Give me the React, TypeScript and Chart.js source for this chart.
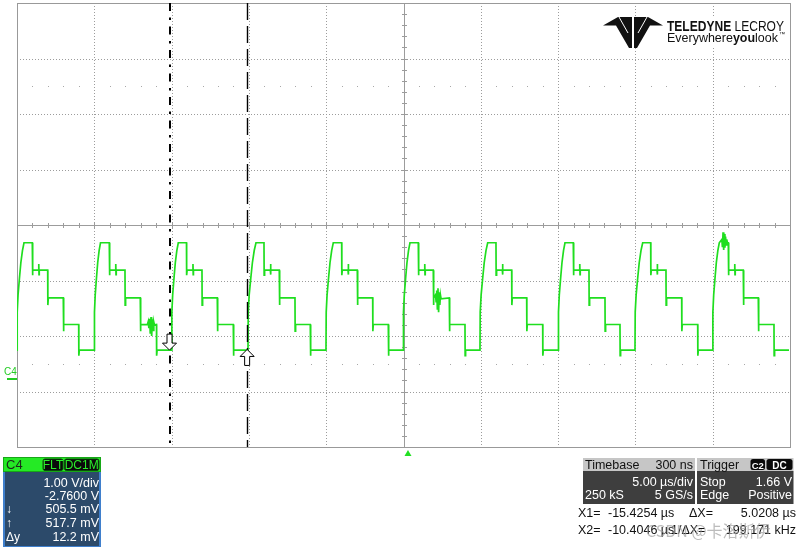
import React, { useEffect, useRef } from "react";
import { Chart, registerables } from "chart.js";

Chart.register(...registerables);

// ---- Scope settings: 5 µs/div, 1 V/div, offset -2.76 V ----
const X_MIN_US = -25.29;
const X_MAX_US = 24.71;
const US_PER_DIV = 5;
const Y_MIN_V = -1.24;
const Y_MAX_V = 6.76;
const V_PER_DIV = 1;
const H_DIVS = 10;
const V_DIVS = 8;
const MINOR_PER_DIV = 5;

// ---- C4 waveform breakpoints (µs), one entry per period ----
const riseStartUs = [-25.29, -20.291, -15.285, -10.349, -5.304, -0.304, 4.657, 9.722, 14.683, 19.709];
const peakStartUs = [-24.838, -19.89, -14.858, -9.832, -4.832, 0.129, 5.155, 10.155, 15.181, 20.136];
const peakEndUs = [-24.301, -19.321, -14.327, -9.314, -4.289, 0.666, 5.692, 10.692, 15.699, 20.718];
const step1EndUs = [-23.305, -18.305, -13.325, -8.325, -3.279, 1.636, 6.708, 11.708, 16.688, 21.688];
const step2EndUs = [-22.296, -17.316, -12.335, -7.309, -2.283, 2.671, 7.678, 12.743, 17.704, 22.659];
const step3EndUs = [-21.3, -16.268, -11.3, -6.32, -1.274, 3.687, 8.713, 13.713, 18.739, 23.674];
const traceEndUs = 24.644;

// levels (V): peak, step1, step2, step3, base
const levelsV = [2.44, 1.946, 1.447, 0.967, 0.505];
const edgeUndershootV = [0.09, 0.13, 0.12, 0.1];
// rising edge shape (fraction of rise time, volts)
const riseFraction = [0, 0.03, 0.15, 0.35, 0.55, 0.78, 1];
const riseV = [0.505, 1.19, 1.5, 1.8, 2.08, 2.3, 2.44];
const spikeOffsetUs = 0.41;
const spikeV = [0.11, -0.08];

// noise bursts
const burstTimesUs = [
  -16.85, -16.8, -16.76, -16.71, -16.67, -16.62, -16.58, -16.53, -16.49, -16.44, -16.4,
  1.78, 1.82, 1.86, 1.9, 1.94, 1.98, 2.02, 2.06, 2.1, 2.14,
  20.3, 20.34, 20.38, 20.42, 20.46, 20.5, 20.54, 20.58, 20.62, 20.66,
];
const burstV = [
  0.97, 1.02, 0.9, 1.07, 0.8, 1.1, 0.76, 1.06, 0.86, 1.01, 0.96,
  1.5, 1.38, 1.58, 1.25, 1.62, 1.19, 1.55, 1.32, 1.5, 1.43,
  2.5, 2.36, 2.63, 2.31, 2.6, 2.35, 2.55, 2.4, 2.5, 2.44,
];

// cursors / trigger
const cursorX1Us = -15.4254;
const cursorX2Us = -10.4046;
const cursorDownV = 0.5055;
const cursorUpV = 0.5177;
const triggerTimeUs = 0;

// panel texts
const chLabel = "C4";
const chRows = ["1.00 V/div", "-2.7600 V", "505.5 mV", "517.7 mV", "12.2 mV"];
const chRowSymbols = ["", "", "↓", "↑", "Δy"];

const FONT = '"Liberation Sans", Arial, sans-serif';
const GREEN = "#1fde1f";

function buildTrace() {
  const pts: { x: number; y: number }[] = [];
  for (let k = 0; k < riseStartUs.length; k++) {
    const R = riseStartUs[k];
    const P = peakStartUs[k];
    riseFraction.forEach((f, i) => pts.push({ x: R + f * (P - R), y: riseV[i] }));
    const ends = [peakEndUs[k], step1EndUs[k], step2EndUs[k], step3EndUs[k]];
    for (let s = 0; s < 4; s++) {
      pts.push({ x: ends[s], y: levelsV[s] });
      pts.push({ x: ends[s] + 0.01, y: levelsV[s + 1] - edgeUndershootV[s] });
      pts.push({ x: ends[s] + 0.04, y: levelsV[s + 1] });
      if (s === 0) {
        const ts = ends[0] + spikeOffsetUs;
        pts.push({ x: ts, y: levelsV[1] });
        pts.push({ x: ts + 0.01, y: levelsV[1] + spikeV[0] });
        pts.push({ x: ts + 0.025, y: levelsV[1] + spikeV[1] });
        pts.push({ x: ts + 0.04, y: levelsV[1] });
      }
    }
  }
  pts.push({ x: traceEndUs, y: levelsV[4] });
  burstTimesUs.forEach((t, i) => pts.push({ x: t, y: burstV[i] }));
  pts.sort((a, b) => a.x - b.x);
  return pts;
}

function text(ctx: CanvasRenderingContext2D, s: string, x: number, y: number, align: CanvasTextAlign, font: string, color: string) {
  ctx.font = font;
  ctx.fillStyle = color;
  ctx.textAlign = align;
  ctx.textBaseline = "alphabetic";
  ctx.fillText(s, x, y);
}

function rrect(ctx: CanvasRenderingContext2D, x: number, y: number, w: number, h: number, r: number, fill: string, stroke?: string) {
  ctx.beginPath();
  ctx.moveTo(x + r, y);
  ctx.lineTo(x + w - r, y);
  ctx.quadraticCurveTo(x + w, y, x + w, y + r);
  ctx.lineTo(x + w, y + h - r);
  ctx.quadraticCurveTo(x + w, y + h, x + w - r, y + h);
  ctx.lineTo(x + r, y + h);
  ctx.quadraticCurveTo(x, y + h, x, y + h - r);
  ctx.lineTo(x, y + r);
  ctx.quadraticCurveTo(x, y, x + r, y);
  ctx.closePath();
  ctx.fillStyle = fill;
  ctx.fill();
  if (stroke) {
    ctx.strokeStyle = stroke;
    ctx.lineWidth = 1;
    ctx.stroke();
  }
}

const gridPlugin = {
  id: "scopeGrid",
  beforeDatasetsDraw(chart: any) {
    const { ctx, chartArea, scales } = chart;
    const xs = scales.x;
    const ys = scales.y;
    const L = chartArea.left, R = chartArea.right, T = chartArea.top, B = chartArea.bottom;
    ctx.save();
    ctx.lineWidth = 1;
    ctx.strokeStyle = "#9c9c9c";
    ctx.setLineDash([1, 2]);
    for (let k = 1; k < H_DIVS; k++) {
      if (k === H_DIVS / 2) continue;
      const x = Math.round(xs.getPixelForValue(X_MIN_US + k * US_PER_DIV)) + 0.5;
      ctx.beginPath();
      ctx.moveTo(x, T);
      ctx.lineTo(x, B);
      ctx.stroke();
    }
    for (let j = 1; j < V_DIVS; j++) {
      if (j === V_DIVS / 2) continue;
      const y = Math.round(ys.getPixelForValue(Y_MIN_V + j * V_PER_DIV)) + 0.5;
      ctx.beginPath();
      ctx.moveTo(L, y);
      ctx.lineTo(R, y);
      ctx.stroke();
    }
    ctx.setLineDash([]);
    ctx.fillStyle = "#a8a8a8";
    [1.5, 6.5].forEach((j) => {
      const y = Math.round(ys.getPixelForValue(Y_MIN_V + j * V_PER_DIV));
      for (let m = 1; m < H_DIVS * MINOR_PER_DIV; m++) {
        if (m % MINOR_PER_DIV === 0) continue;
        const x = Math.round(xs.getPixelForValue(X_MIN_US + (m * US_PER_DIV) / MINOR_PER_DIV));
        ctx.fillRect(x, y, 1, 1);
      }
    });
    const cx = Math.round(xs.getPixelForValue(X_MIN_US + (H_DIVS / 2) * US_PER_DIV)) + 0.5;
    const cy = Math.round(ys.getPixelForValue(Y_MIN_V + (V_DIVS / 2) * V_PER_DIV)) + 0.5;
    ctx.strokeStyle = "#9c9c9c";
    ctx.beginPath();
    ctx.moveTo(cx, T);
    ctx.lineTo(cx, B);
    ctx.moveTo(L, cy);
    ctx.lineTo(R, cy);
    for (let m = 1; m < H_DIVS * MINOR_PER_DIV; m++) {
      const x = Math.round(xs.getPixelForValue(X_MIN_US + (m * US_PER_DIV) / MINOR_PER_DIV)) + 0.5;
      ctx.moveTo(x, cy - 2.5);
      ctx.lineTo(x, cy + 2.5);
    }
    for (let m = 1; m < V_DIVS * MINOR_PER_DIV; m++) {
      const y = Math.round(ys.getPixelForValue(Y_MIN_V + (m * V_PER_DIV) / MINOR_PER_DIV)) + 0.5;
      ctx.moveTo(cx - 2.5, y);
      ctx.lineTo(cx + 2.5, y);
    }
    ctx.stroke();
    ctx.strokeStyle = "#999999";
    ctx.strokeRect(Math.round(L) + 0.5, Math.round(T) + 0.5, Math.round(R - L), Math.round(B - T));
    ctx.restore();
  },
};

const overlayPlugin = {
  id: "scopeOverlay",
  afterDatasetsDraw(chart: any) {
    const { ctx, chartArea, scales } = chart;
    const xs = scales.x;
    const ys = scales.y;
    const T = chartArea.top, B = chartArea.bottom;
    ctx.save();

    // cursors
    const x1 = Math.round(xs.getPixelForValue(cursorX1Us));
    const x2 = Math.round(xs.getPixelForValue(cursorX2Us)) + 0.5;
    ctx.strokeStyle = "#000";
    ctx.lineWidth = 2;
    ctx.setLineDash([8, 6.5, 2.5, 6.5]);
    ctx.beginPath();
    ctx.moveTo(x1, T);
    ctx.lineTo(x1, B);
    ctx.stroke();
    ctx.lineWidth = 1.4;
    ctx.setLineDash([17, 6]);
    ctx.beginPath();
    ctx.moveTo(x2, T);
    ctx.lineTo(x2, B);
    ctx.stroke();
    ctx.setLineDash([]);

    const drawArrow = (x: number, tip: number, dir: number) => {
      ctx.beginPath();
      ctx.moveTo(x, tip);
      ctx.lineTo(x - 7, tip - dir * 7);
      ctx.lineTo(x - 2.5, tip - dir * 7);
      ctx.lineTo(x - 2.5, tip - dir * 16);
      ctx.lineTo(x + 2.5, tip - dir * 16);
      ctx.lineTo(x + 2.5, tip - dir * 7);
      ctx.lineTo(x + 7, tip - dir * 7);
      ctx.closePath();
      ctx.fillStyle = "#fff";
      ctx.fill();
      ctx.strokeStyle = "#000";
      ctx.lineWidth = 1;
      ctx.stroke();
    };
    drawArrow(xs.getPixelForValue(cursorX1Us), ys.getPixelForValue(cursorDownV), 1);
    drawArrow(xs.getPixelForValue(cursorX2Us), ys.getPixelForValue(cursorUpV), -1);

    // trigger marker
    const tx = xs.getPixelForValue(triggerTimeUs);
    ctx.fillStyle = "#22e022";
    ctx.beginPath();
    ctx.moveTo(tx, B + 3);
    ctx.lineTo(tx + 3.5, B + 9);
    ctx.lineTo(tx - 3.5, B + 9);
    ctx.closePath();
    ctx.fill();

    // channel ground marker
    const gy = Math.round(ys.getPixelForValue(0));
    ctx.fillStyle = "#22cc22";
    ctx.fillRect(7, gy, 10, 2);
    text(ctx, chLabel, 4, gy - 3.5, "left", `10px ${FONT}`, "#22cc22");

    // logo
    ctx.fillStyle = "#fff";
    ctx.fillRect(600, 16, 190, 31);
    ctx.fillStyle = "#111";
    ctx.beginPath();
    ctx.moveTo(603, 25.5);
    ctx.lineTo(618, 17);
    ctx.lineTo(632, 17);
    ctx.lineTo(632, 48);
    ctx.lineTo(629, 48);
    ctx.lineTo(616, 25.5);
    ctx.closePath();
    ctx.fill();
    ctx.beginPath();
    ctx.moveTo(663, 25.5);
    ctx.lineTo(648, 17);
    ctx.lineTo(634, 17);
    ctx.lineTo(634, 48);
    ctx.lineTo(637, 48);
    ctx.lineTo(650, 25.5);
    ctx.closePath();
    ctx.fill();
    ctx.strokeStyle = "#fff";
    ctx.lineWidth = 1;
    ctx.beginPath();
    ctx.moveTo(619, 17);
    ctx.lineTo(628, 33);
    ctx.moveTo(647, 17);
    ctx.lineTo(638, 33);
    ctx.stroke();

    const drawScaled = (parts: [string, string][], x: number, y: number, width: number) => {
      let total = 0;
      parts.forEach(([s, f]) => {
        ctx.font = f;
        total += ctx.measureText(s).width;
      });
      const sc = width / total;
      ctx.save();
      ctx.translate(x, y);
      ctx.scale(sc, 1);
      let cx = 0;
      parts.forEach(([s, f]) => {
        ctx.font = f;
        ctx.fillStyle = "#111";
        ctx.textAlign = "left";
        ctx.fillText(s, cx, 0);
        cx += ctx.measureText(s).width;
      });
      ctx.restore();
    };
    drawScaled([["TELEDYNE", `bold 14px ${FONT}`], [" LECROY", `14px ${FONT}`]], 667, 30.5, 117);
    drawScaled(
      [["Everywhere", `12.5px ${FONT}`], ["you", `bold 12.5px ${FONT}`], ["look", `12.5px ${FONT}`]],
      667, 42, 111
    );
    text(ctx, "™", 779, 36, "left", `6px ${FONT}`, "#111");

    // ---- channel panel ----
    ctx.fillStyle = "#3f7fcc";
    ctx.fillRect(3, 457, 98, 90);
    ctx.fillStyle = "#2c4a6a";
    ctx.fillRect(5, 472, 94, 74);
    ctx.fillStyle = "#25ea25";
    ctx.fillRect(3, 457, 98, 15);
    ctx.strokeStyle = "#17a817";
    ctx.strokeRect(3.5, 457.5, 97, 14);
    text(ctx, chLabel, 6, 469, "left", `13px ${FONT}`, "#1b2b1b");
    rrect(ctx, 43, 459, 20, 11.5, 2, "#0a0a0a", "#0c4a0c");
    rrect(ctx, 64.5, 459, 34.5, 11.5, 2, "#0a0a0a", "#0c4a0c");
    text(ctx, "FLT", 53, 469, "center", `12px ${FONT}`, "#2bee2b");
    text(ctx, "DC1M", 81.7, 469, "center", `12px ${FONT}`, "#2bee2b");
    const rowY = [486.5, 499.5, 513.3, 527, 540.7];
    chRows.forEach((s, i) => {
      text(ctx, s, 99, rowY[i], "right", `12.5px ${FONT}`, "#ffffff");
      if (chRowSymbols[i]) text(ctx, chRowSymbols[i], 6, rowY[i], "left", `12px ${FONT}`, "#ffffff");
    });

    // ---- timebase / trigger panels ----
    ctx.fillStyle = "#c6c6c6";
    ctx.fillRect(583, 458, 112, 13);
    ctx.fillRect(697, 458, 96.5, 13);
    ctx.fillStyle = "#3e3e3e";
    ctx.fillRect(583, 471, 112, 33);
    ctx.fillRect(697, 471, 96.5, 33);
    text(ctx, "Timebase", 585, 469, "left", `12.5px ${FONT}`, "#111");
    text(ctx, "300 ns", 693, 469, "right", `12.5px ${FONT}`, "#111");
    text(ctx, "5.00 µs/div", 693, 486, "right", `12.5px ${FONT}`, "#fff");
    text(ctx, "250 kS", 585, 498.5, "left", `12.5px ${FONT}`, "#fff");
    text(ctx, "5 GS/s", 693, 498.5, "right", `12.5px ${FONT}`, "#fff");
    text(ctx, "Trigger", 700, 469, "left", `12.5px ${FONT}`, "#111");
    rrect(ctx, 750.5, 459, 14.5, 11, 2.5, "#0a0a0a");
    rrect(ctx, 766.5, 459, 26, 11, 2.5, "#0a0a0a");
    text(ctx, "C2", 757.8, 468.5, "center", `bold 9.5px ${FONT}`, "#fff");
    text(ctx, "DC", 779.5, 468.5, "center", `bold 10px ${FONT}`, "#fff");
    text(ctx, "Stop", 700, 486, "left", `12.5px ${FONT}`, "#fff");
    text(ctx, "1.66 V", 792, 486, "right", `12.5px ${FONT}`, "#fff");
    text(ctx, "Edge", 700, 498.5, "left", `12.5px ${FONT}`, "#fff");
    text(ctx, "Positive", 792, 498.5, "right", `12.5px ${FONT}`, "#fff");

    // ---- cursor readouts ----
    const f = `12.5px ${FONT}`;
    text(ctx, "X1=", 578, 516.5, "left", f, "#111");
    text(ctx, "-15.4254 µs", 608, 516.5, "left", f, "#111");
    text(ctx, "ΔX=", 689, 516.5, "left", f, "#111");
    text(ctx, "5.0208 µs", 796, 516.5, "right", f, "#111");
    text(ctx, "X2=", 578, 534, "left", f, "#111");
    text(ctx, "-10.4046 µs", 608, 534, "left", f, "#111");
    text(ctx, "1/ΔX=", 671, 534, "left", f, "#111");
    text(ctx, "199.171 kHz", 796, 534, "right", f, "#111");
    // watermark
    text(ctx, "CSDN @卡洛斯伊", 646, 537, "left", `16px "Noto Sans CJK SC", ${FONT}`, "rgba(160,160,160,0.7)");

    ctx.restore();
  },
};

export default function App() {
  const ref = useRef<HTMLCanvasElement>(null);
  useEffect(() => {
    const canvas = ref.current;
    if (!canvas) return;
    const chart = new Chart(canvas, {
      type: "line",
      data: {
        datasets: [
          {
            data: buildTrace(),
            borderColor: GREEN,
            borderWidth: 1.7,
            pointRadius: 0,
            tension: 0,
            fill: false,
          },
        ],
      },
      options: {
        animation: false,
        responsive: false,
        maintainAspectRatio: false,
        events: [],
        layout: { padding: { left: 17, top: 3, right: 10, bottom: 100 } },
        scales: {
          x: { type: "linear", min: X_MIN_US, max: X_MAX_US, display: false },
          y: { type: "linear", min: Y_MIN_V, max: Y_MAX_V, display: false },
        },
        plugins: { legend: { display: false }, tooltip: { enabled: false } },
      },
      plugins: [gridPlugin, overlayPlugin],
    } as any);
    return () => chart.destroy();
  }, []);
  return (
    <div style={{ position: "fixed", left: 0, top: 0, width: 800, height: 547, background: "#fff" }}>
      <canvas ref={ref} width={800} height={547} style={{ display: "block", width: 800, height: 547 }} />
    </div>
  );
}
